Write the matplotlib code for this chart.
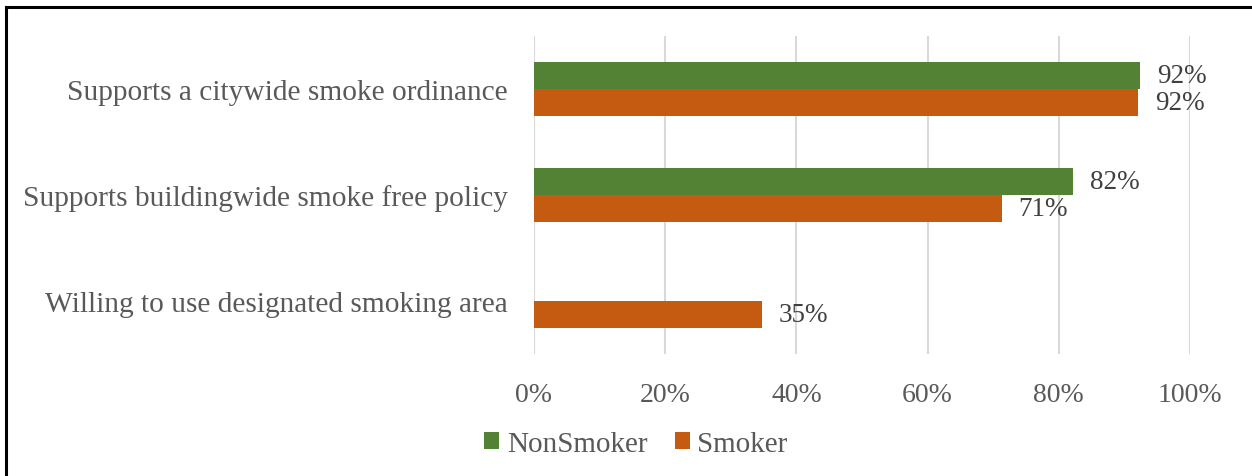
import numpy as np
import matplotlib.pyplot as plt
from matplotlib.lines import Line2D

categories = ["Supports a citywide smoke ordinance",
              "Supports buildingwide smoke free policy",
              "Willing to use designated smoking area"]
nonsmoker = [0.924, 0.822, 0.0]
smoker = [0.921, 0.713, 0.348]
nonsmoker_labels = ["92%", "82%", ""]
smoker_labels = ["92%", "71%", "35%"]

plt.rcParams['font.family'] = ['Liberation Serif', 'DejaVu Serif']

green = "#548235"
orange = "#c55a11"

fig = plt.figure(figsize=(12.52, 4.77), dpi=100)
ax = fig.add_axes([0.4265, 0.2558, 0.524, 0.6666])

y = np.arange(len(categories))[::-1]
h = 0.255
ax.barh(y + h / 2, nonsmoker, height=h, color=green, label="NonSmoker", zorder=3)
ax.barh(y - h / 2, smoker, height=h, color=orange, label="Smoker", zorder=3)

for yi, v, t in zip(y, nonsmoker, nonsmoker_labels):
    if t:
        ax.annotate(t, (v, yi + h / 2), xytext=(12, 0), textcoords="offset points",
                    va="center", ha="left", fontsize=19.5, color="#404040")
for yi, v, t in zip(y, smoker, smoker_labels):
    ax.annotate(t, (v, yi - h / 2), xytext=(12, 0), textcoords="offset points",
                va="center", ha="left", fontsize=19.5, color="#404040")

ax.set_xlim(0, 1)
ax.set_ylim(-0.5, 2.5)
ax.set_xticks(np.linspace(0, 1, 6))
ax.set_xticklabels(["0%", "20%", "40%", "60%", "80%", "100%"])
ax.set_yticks(y)
ax.set_yticklabels(categories, fontsize=21.2)
ax.tick_params(axis="both", length=0, labelcolor="#595959")
ax.tick_params(axis="x", labelsize=20, pad=20)
ax.tick_params(axis="y", pad=19)
ax.grid(axis="x", color="#d9d9d9", linewidth=1.5, zorder=0)
for s in ax.spines.values():
    s.set_visible(False)

fig.legend(loc="center", bbox_to_anchor=(0.508, 0.067), ncol=2, frameon=False,
           fontsize=21, labelcolor="#595959", handlelength=0.52, handleheight=0.52,
           handletextpad=0.25, columnspacing=0.95)

# border lines
fig.add_artist(Line2D([0.005, 0.005], [0, 0.983], color="black", linewidth=2.2,
                      transform=fig.transFigure))
fig.add_artist(Line2D([0.005, 1], [0.983, 0.983], color="black", linewidth=2.2,
                      transform=fig.transFigure))

fig.savefig("out.png", dpi=100)
